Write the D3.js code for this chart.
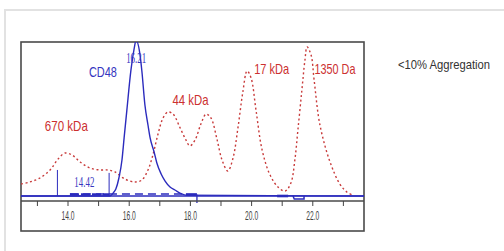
<!DOCTYPE html>
<html><head><meta charset="utf-8">
<script src="https://cdn.jsdelivr.net/npm/d3@7"></script>
<style>body{margin:0;background:#fff;overflow:hidden}</style>
</head><body>
<svg id="c" width="504" height="251"></svg>
<script>
// Elution volume (mL) vs absorbance (relative units)
const redTime  = [12.48,12.77,13.10,13.43,13.69,13.92,14.15,14.41,14.73,15.06,15.32,15.55,15.88,16.20,16.43,16.63,16.79,16.95,17.12,17.28,17.45,17.68,17.87,18.00,18.17,18.36,18.53,18.69,18.89,19.05,19.24,19.41,19.57,19.73,19.87,20.00,20.16,20.36,20.62,20.88,21.11,21.30,21.43,21.53,21.66,21.76,21.83,21.96,22.06,22.25,22.58,22.90,23.13,23.33];
const redValue = [7.8,9.1,11.7,16.9,24.0,27.9,26.6,22.1,18.2,16.9,16.9,15.6,11.0,9.1,10.4,16.9,26.6,39.6,50.6,54.5,53.2,44.2,36.4,32.5,36.4,46.8,53.2,50.6,36.4,23.4,16.2,24.7,44.2,67.5,81.2,76.6,55.8,29.9,13.6,5.8,3.2,8.4,23.4,42.9,68.8,88.3,96.8,91.6,75.3,46.1,22.1,7.8,2.6,0.5];
const blueTime  = [12.48,15.39,15.49,15.58,15.68,15.78,15.85,15.94,16.07,16.17,16.24,16.37,16.43,16.53,16.63,16.70,16.83,16.92,17.06,17.19,17.35,17.51,17.74,17.87,23.69];
const blueValue = [0,0,1.9,4.5,11.7,23.4,37.7,55.8,81.2,94.8,101,91.6,81.2,59.1,46.1,37.7,28.6,21.4,14.3,9.7,5.8,3.9,1.3,0.6,0];
const markerTime = [13.67, 15.36];
const markerValue = [16.9, 15.0];
const dashedBaseline = [14.08, 17.74];
const thickSegStart = [14.08, 17.87, 20.85];
const thickSegEnd   = [15.36, 18.23, 21.21];
const thickSegValue = [1.0, 1.0, 0];
const stepTime = [21.37, 21.73];
const stepValue = -1.9;
const dropTime = 18.23;
const dropValue = [1.0, -3.9];
const tickValues = [13,14,15,16,17,18,19,20,21,22,23];
const tickLabels = {14:"14.0",16:"16.0",18:"18.0",20:"20.0",22:"22.0"};
const peakNames = ["670 kDa","44 kDa","17 kDa","1350 Da"];
const peakNameTime = [13.26, 17.43, 20.10, 22.07];
const peakNameValue = [42.5, 59.1, 79.0, 79.0];
const seriesName = "CD48";
const retentionLabels = ["16.21","14.42"];
const note = "<10% Aggregation";

const svg = d3.select("#c");
const L = 21, R = 364, T = 42, B = 231, AX = 201;
const x = d3.scaleLinear().domain([12.48, 23.69]).range([L, R]);
const y = d3.scaleLinear().domain([0, 100]).range([196, 42]);

const RED = "#c83a3a", BLUE = "#2b2bbd";
const sans = "'Liberation Sans Narrow','Arial Narrow','Liberation Sans',sans-serif";
const peakNameWidth = [43, 36, 35, 41];

// outer panel border
svg.append("rect").attr("x",5).attr("y",10).attr("width",560).attr("height",300)
  .attr("fill","#fff").attr("stroke","#e2e2e2").attr("stroke-width",2);

// plot box
svg.append("rect").attr("x",L).attr("y",T).attr("width",R-L).attr("height",B-T)
  .attr("fill","#fff").attr("stroke","#4a4a4a").attr("stroke-width",1.6);

svg.append("clipPath").attr("id","pc").append("rect")
  .attr("x",L).attr("y",T).attr("width",R-L).attr("height",AX-T+6);
const g = svg.append("g").attr("clip-path","url(#pc)");

// blue solid baseline across
g.append("line").attr("x1",x(12.48)).attr("x2",x(23.69)).attr("y1",y(0)).attr("y2",y(0))
  .attr("stroke",BLUE).attr("stroke-width",1.4);

// dashed baseline
g.append("line").attr("x1",x(dashedBaseline[0])).attr("x2",x(dashedBaseline[1]))
  .attr("y1",y(1.3)).attr("y2",y(1.3))
  .attr("stroke",BLUE).attr("stroke-width",1.7).attr("stroke-dasharray","8,5");

// thick segments
thickSegStart.forEach((s,i)=>{
  g.append("line").attr("x1",x(s)).attr("x2",x(thickSegEnd[i]))
    .attr("y1",y(thickSegValue[i])).attr("y2",y(thickSegValue[i]))
    .attr("stroke",BLUE).attr("stroke-width",2.6)
    .attr("stroke-dasharray", i===0 ? "9,2" : null);
});
// step
g.append("path").attr("d", d3.line()([
  [x(stepTime[0]), y(0)], [x(stepTime[0]+0.04), y(stepValue)],
  [x(stepTime[1]), y(stepValue)], [x(stepTime[1]), y(0)]
])).attr("fill","none").attr("stroke",BLUE).attr("stroke-width",1.5);
// drop line
g.append("line").attr("x1",x(dropTime)).attr("x2",x(dropTime))
  .attr("y1",y(dropValue[0])).attr("y2",y(dropValue[1])+1)
  .attr("stroke",BLUE).attr("stroke-width",1.3);

// integration markers
markerTime.forEach((t,i)=>{
  g.append("line").attr("x1",x(t)).attr("x2",x(t))
    .attr("y1",y(markerValue[i])).attr("y2",y(0))
    .attr("stroke",BLUE).attr("stroke-width",1);
});

// red dotted standards curve
const line = d3.line().x(d=>x(d[0])).y(d=>y(d[1])).curve(d3.curveCatmullRom);
g.append("path").datum(redTime.map((t,i)=>[t,redValue[i]]))
  .attr("d",line).attr("fill","none").attr("stroke",RED)
  .attr("stroke-width",1.4).attr("stroke-dasharray","2,2.6");

// blue sample curve
g.append("path").datum(blueTime.map((t,i)=>[t,blueValue[i]]))
  .attr("d",d3.line().x(d=>x(d[0])).y(d=>y(d[1])).curve(d3.curveMonotoneX))
  .attr("fill","none").attr("stroke",BLUE).attr("stroke-width",1.4);

// x axis line
svg.append("line").attr("x1",L).attr("x2",R).attr("y1",AX).attr("y2",AX)
  .attr("stroke","#4a4a4a").attr("stroke-width",1.6);
const axis = d3.axisBottom(x).tickValues(tickValues).tickSize(5).tickPadding(4)
  .tickFormat(d=>tickLabels[d] || "");
const ax = svg.append("g").attr("transform",`translate(0,${AX})`).call(axis);
ax.select(".domain").remove();
ax.selectAll(".tick line").attr("stroke","#444").attr("stroke-width",1);
ax.selectAll(".tick text").attr("fill","#444").attr("font-family",sans)
  .attr("font-size",13.5).attr("dy","0.71em")
  .attr("textLength",d=>tickLabels[d]?13:null).attr("lengthAdjust","spacingAndGlyphs");

// peak names
peakNames.forEach((n,i)=>{
  svg.append("text").attr("x",x(peakNameTime[i])).attr("y",y(peakNameValue[i]))
    .attr("fill","#cc3030").attr("font-family",sans).attr("font-size",15)
    .attr("textLength",peakNameWidth[i]).attr("lengthAdjust","spacingAndGlyphs").text(n);
});
svg.append("text").attr("x",x(14.70)).attr("y",y(77.3))
  .attr("fill","#3535c0").attr("font-family",sans).attr("font-size",15)
  .attr("textLength",28).attr("lengthAdjust","spacingAndGlyphs").text(seriesName);

// retention labels (serif)
svg.append("text").attr("x",x(16.21)+1).attr("y",63).attr("text-anchor","middle")
  .attr("fill","#3535c0").attr("font-family","'Liberation Serif',serif").attr("font-size",14)
  .attr("textLength",20).attr("lengthAdjust","spacingAndGlyphs").text(retentionLabels[0]);
svg.append("text").attr("x",x(14.42)+4).attr("y",187).attr("text-anchor","middle")
  .attr("fill","#3535c0").attr("font-family","'Liberation Serif',serif").attr("font-size",14)
  .attr("textLength",20).attr("lengthAdjust","spacingAndGlyphs").text(retentionLabels[1]);

// note
svg.append("text").attr("x",398).attr("y",69).attr("fill","#333")
  .attr("font-family",sans).attr("font-size",13)
  .attr("textLength",92).attr("lengthAdjust","spacingAndGlyphs").text(note);
</script>
</body></html>
